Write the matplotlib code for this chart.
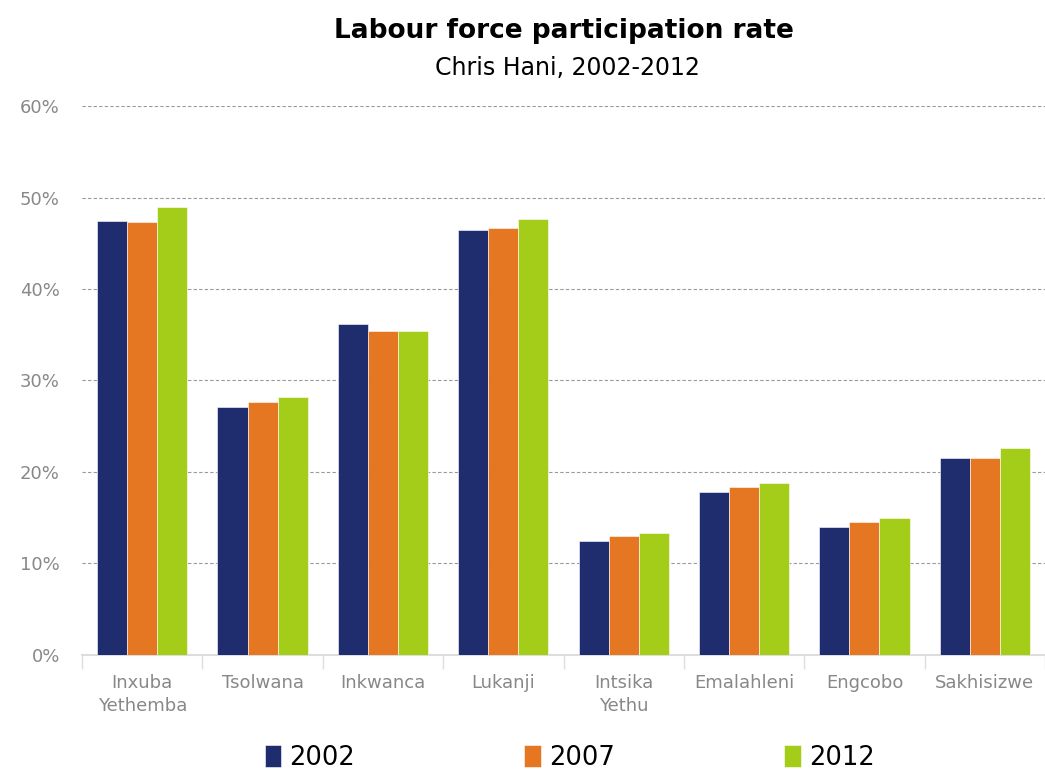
import matplotlib
matplotlib.use("Agg")
import matplotlib.pyplot as plt
import numpy as np
from matplotlib.ticker import FuncFormatter

regions = ["Inxuba\nYethemba", "Tsolwana", "Inkwanca", "Lukanji",
           "Intsika\nYethu", "Emalahleni", "Engcobo", "Sakhisizwe"]
years = ["2002", "2007", "2012"]
rate_2002 = [47.4, 27.1, 36.2, 46.4, 12.5, 17.8, 14.0, 21.5]
rate_2007 = [47.3, 27.6, 35.4, 46.7, 13.0, 18.4, 14.5, 21.5]
rate_2012 = [49.0, 28.2, 35.4, 47.7, 13.3, 18.8, 15.0, 22.6]
colors = ["#1F2D6E", "#E67722", "#A3CD18"]

plt.rcParams["font.family"] = ["DejaVu Sans"]

fig = plt.figure(figsize=(10.45, 7.71), dpi=100)
ax = fig.add_axes([0.0785, 0.1505, 0.9215, 0.712])

x = np.arange(len(regions))
w = 0.25
for i, (vals, yr) in enumerate(zip([rate_2002, rate_2007, rate_2012], years)):
    ax.bar(x + (i - 1) * w, vals, w, color=colors[i], label=yr, zorder=3,
           edgecolor="white", linewidth=0.4)

ax.set_xlim(-0.5, len(regions) - 0.5)
ax.set_ylim(0, 60)
ax.set_yticks(range(0, 61, 10))
ax.yaxis.set_major_formatter(FuncFormatter(lambda v, p: f"{int(v)}%"))
ax.yaxis.grid(True, linestyle=(0, (3, 2)), color="#999999", linewidth=0.8, zorder=0)

for s in ["top", "right", "left"]:
    ax.spines[s].set_visible(False)
ax.spines["bottom"].set_color("#DDDDDD")
ax.spines["bottom"].set_linewidth(1.5)

ax.set_xticks(x)
ax.set_xticklabels(regions, color="#888888", fontsize=13, linespacing=1.3)
ax.set_xticks(np.arange(-0.5, len(regions), 1), minor=True)
ax.tick_params(axis="x", which="major", length=0, pad=14)
ax.tick_params(axis="x", which="minor", length=10, color="#DDDDDD", width=1)
ax.tick_params(axis="y", length=0, labelsize=13, labelcolor="#888888", pad=16)

fig.text(0.54, 0.96, "Labour force participation rate", ha="center", va="center",
         fontsize=19, fontweight="bold")
fig.text(0.543, 0.912, "Chris Hani, 2002-2012", ha="center", va="center", fontsize=17)

leg = fig.legend(loc="center", bbox_to_anchor=(0.545, 0.017), ncol=3, frameon=False,
                 fontsize=18.5, handlelength=0.65, handleheight=0.95, handletextpad=0.3,
                 columnspacing=6.6)

fig.savefig("out.png", dpi=100)
